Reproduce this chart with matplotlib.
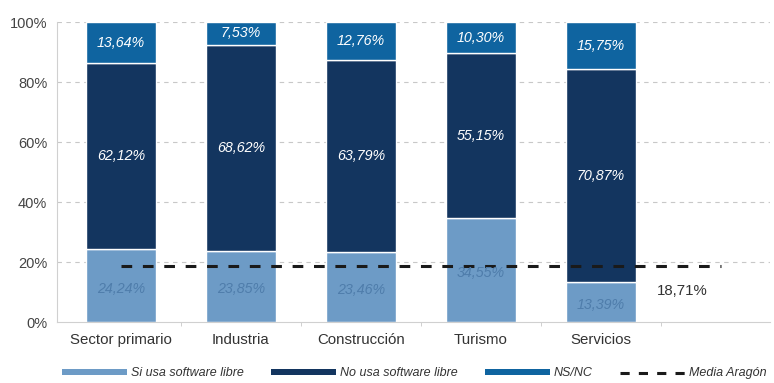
import matplotlib
matplotlib.use("Agg")
import matplotlib.pyplot as plt
from matplotlib.patches import Patch
from matplotlib.lines import Line2D
import numpy as np

plt.rcParams['font.family'] = ['Liberation Sans', 'DejaVu Sans']

categories = ["Sector primario", "Industria", "Construcción", "Turismo", "Servicios"]
si_usa = [24.24, 23.85, 23.46, 34.55, 13.39]
no_usa = [62.12, 68.62, 63.79, 55.15, 70.87]
ns_nc = [13.64, 7.53, 12.76, 10.30, 15.75]
media_aragon = 18.71
series_labels = ["Si usa software libre", "No usa software libre", "NS/NC", "Media Aragón"]
y_ticks = [0, 20, 40, 60, 80, 100]

c_si = "#6d9bc6"
c_no = "#13355f"
c_ns = "#0f64a0"
c_si_text = "#4f7dab"

fig = plt.figure(figsize=(7.74, 3.83), dpi=100)
ax = fig.add_axes([0.0736, 0.159, 0.9214, 0.7833])

x = np.arange(len(categories))
w = 0.58
si = np.array(si_usa)
no = np.array(no_usa)
ns = np.array(ns_nc)

ax.bar(x, si, w, color=c_si, edgecolor="white", linewidth=1.0, zorder=2)
ax.bar(x, no, w, bottom=si, color=c_no, edgecolor="white", linewidth=1.0, zorder=2)
ax.bar(x, ns, w, bottom=si + no, color=c_ns, edgecolor="white", linewidth=1.0, zorder=2)

def fmt(v):
    return f"{v:.2f}".replace(".", ",") + "%"

lab_fs = 10.3
for i in range(len(categories)):
    ax.text(x[i], si[i] / 2 - 1.0, fmt(si[i]), ha="center", va="center",
            color=c_si_text, fontsize=lab_fs, style="italic", zorder=4)
    ax.text(x[i], si[i] + no[i] / 2, fmt(no[i]), ha="center", va="center",
            color="white", fontsize=lab_fs, style="italic", zorder=4)
    ax.text(x[i], si[i] + no[i] + ns[i] / 2, fmt(ns[i]), ha="center", va="center",
            color="white", fontsize=lab_fs, style="italic", zorder=4)

# regional average
ax.plot([0, 5], [media_aragon, media_aragon], color="#1a1a1a", linestyle=(0, (3.5, 3.5)),
        linewidth=2.2, zorder=3)
ax.text(4.68, media_aragon - 8.5, fmt(media_aragon), ha="center", va="center",
        color="#333333", fontsize=10.8)

ax.set_xlim(-0.533, 5.41)
ax.set_ylim(0, 100)
ax.set_yticks(y_ticks)
ax.set_yticklabels([f"{t}%" for t in y_ticks], color="#444444", fontsize=10.5)
ax.set_xticks(x)
ax.set_xticklabels(categories, fontsize=10.8, color="#333333")
ax.tick_params(axis="x", length=0, pad=8)
ax.tick_params(axis="y", length=0, pad=7)
ax.set_xticks(np.arange(0.5, 5.0, 1.0), minor=True)
ax.tick_params(axis="x", which="minor", length=3, color="#c8c8c8")

for t in y_ticks[1:]:
    ax.axhline(t, color="#c8c8c8", linestyle=(0, (4, 4)), linewidth=0.8, zorder=1)

for s in ["top", "right"]:
    ax.spines[s].set_visible(False)
ax.spines["left"].set_color("#d0d0d0")
ax.spines["bottom"].set_color("#d0d0d0")

handles = [
    Patch(facecolor=c_si, edgecolor="none"),
    Patch(facecolor=c_no, edgecolor="none"),
    Patch(facecolor=c_ns, edgecolor="none"),
    Line2D([0], [0], color="#1a1a1a", linestyle=(0, (3, 3)), linewidth=2.2),
]
leg = fig.legend(handles, series_labels, loc="center", bbox_to_anchor=(0.535, 0.025),
                 ncol=4, frameon=False, handlelength=5.2, handleheight=0.45,
                 handletextpad=0.3, columnspacing=2.2, prop={"size": 9, "style": "italic"})
for t in leg.get_texts():
    t.set_color("#333333")

fig.savefig("out.png", dpi=100)
